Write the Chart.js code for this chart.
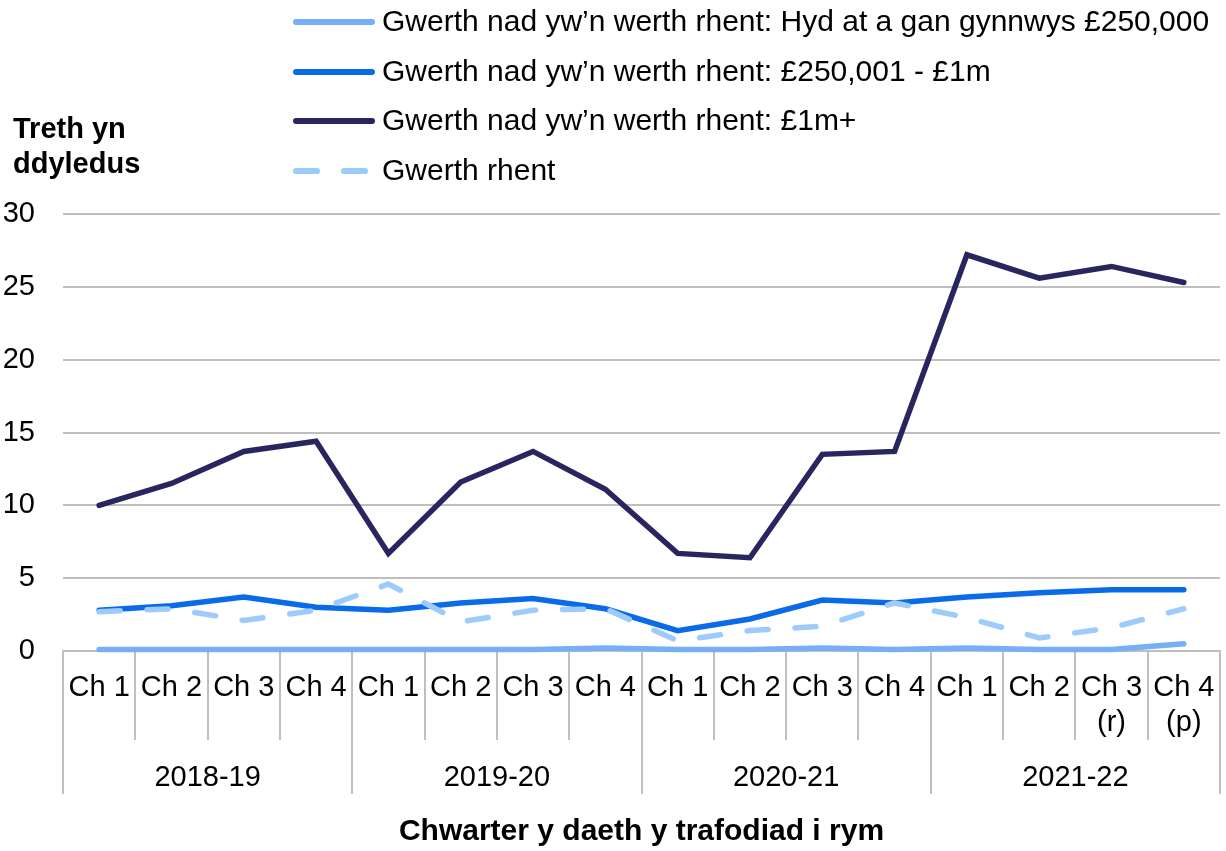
<!doctype html>
<html lang="cy">
<head>
<meta charset="UTF-8">
<title>Treth yn ddyledus</title>
<script src="https://cdn.jsdelivr.net/npm/chart.js@4/dist/chart.umd.min.js"></script>
<style>
  html, body { margin: 0; padding: 0; background: #fff; }
  #wrap { position: relative; width: 1226px; height: 851px; }
</style>
</head>
<body>
<div id="wrap"><canvas id="chart"></canvas></div>
<script>
// data
const quarters = ['Ch 1', 'Ch 2', 'Ch 3', 'Ch 4',
                  'Ch 1', 'Ch 2', 'Ch 3', 'Ch 4',
                  'Ch 1', 'Ch 2', 'Ch 3', 'Ch 4',
                  'Ch 1', 'Ch 2', ['Ch 3', '(r)'], ['Ch 4', '(p)']];
const years = ['2018-19', '2019-20', '2020-21', '2021-22'];

const upTo250k     = [0.1, 0.1, 0.1, 0.1,  0.1, 0.1, 0.1, 0.2,  0.1, 0.1, 0.2, 0.1,  0.2, 0.1, 0.1, 0.5];
const from250kTo1m = [2.8, 3.1, 3.7, 3.0,  2.8, 3.3, 3.6, 2.9,  1.4, 2.2, 3.5, 3.3,  3.7, 4.0, 4.2, 4.2];
const over1m       = [10.0, 11.5, 13.7, 14.4,  6.7, 11.6, 13.7, 11.1,  6.7, 6.4, 13.5, 13.7,  27.2, 25.6, 26.4, 25.3];
const rentValue    = [2.7, 2.9, 2.1, 2.8,  4.6, 2.0, 2.8, 2.9,  0.7, 1.4, 1.7, 3.3,  2.3, 0.9, 1.6, 2.9];

const seriesNames = [
  'Gwerth nad yw\u2019n werth rhent: Hyd at a gan gynnwys \u00a3250,000',
  'Gwerth nad yw\u2019n werth rhent: \u00a3250,001 - \u00a31m',
  'Gwerth nad yw\u2019n werth rhent: \u00a31m+',
  'Gwerth rhent'
];
const yTitle = ['Treth yn', 'ddyledus'];
const xTitle = 'Chwarter y daeth y trafodiad i rym';

const FONT = "'Liberation Sans', Arial, sans-serif";
const GRID = '#bfbfbf';
Chart.defaults.font.family = FONT;
Chart.defaults.color = '#000';

function line(label, data, color, dash, order) {
  return {
    label: label,
    data: data,
    borderColor: color,
    backgroundColor: color,
    borderWidth: 5.5,
    borderDash: dash || [],
    borderCapStyle: 'round',
    pointRadius: 0,
    pointHoverRadius: 0,
    tension: 0,
    clip: false,
    order: order
  };
}

// legend + y title drawn on the canvas
const extras = {
  id: 'extras',
  afterDraw(chart) {
    const ctx = chart.ctx;
    ctx.save();
    const rows = [22, 72, 121, 171];
    chart.data.datasets.forEach((ds, i) => {
      const y = rows[i];
      ctx.strokeStyle = ds.borderColor;
      ctx.lineWidth = 6;
      ctx.lineCap = 'round';
      ctx.setLineDash(ds.borderDash.length ? [21, 27] : []);
      ctx.beginPath();
      ctx.moveTo(296, y);
      ctx.lineTo(372, y);
      ctx.stroke();
      ctx.setLineDash([]);
      ctx.fillStyle = '#000';
      ctx.font = '30px ' + FONT;
      ctx.textBaseline = 'middle';
      ctx.textAlign = 'left';
      ctx.fillText(ds.label, 382, y + 1);
    });
    ctx.font = 'bold 29px ' + FONT;
    ctx.textBaseline = 'alphabetic';
    ctx.fillText(yTitle[0], 13, 138);
    ctx.fillText(yTitle[1], 13, 173);
    ctx.restore();
  }
};

new Chart(document.getElementById('chart'), {
  type: 'line',
  data: {
    labels: quarters,
    datasets: [
      line(seriesNames[0], upTo250k, '#78aef5', null, 1),
      line(seriesNames[1], from250kTo1m, '#0a6be9', null, 1),
      line(seriesNames[2], over1m, '#29265f', null, 1),
      line(seriesNames[3], rentValue, '#9ccbfc', [21, 27], 0)
    ]
  },
  options: {
    responsive: true,
    maintainAspectRatio: false,
    animation: false,
    events: [],
    layout: { padding: { top: 214, right: 6, bottom: 0, left: 0 } },
    plugins: {
      legend: { display: false },
      tooltip: { enabled: false }
    },
    scales: {
      y: {
        min: 0,
        max: 30,
        ticks: { stepSize: 5, padding: 28, font: { size: 29 }, color: '#000' },
        grid: { color: GRID, lineWidth: 2, drawTicks: false },
        border: { display: false },
        afterFit: s => { s.width = 63; }
      },
      x: {
        type: 'category',
        position: 'bottom',
        offset: true,
        weight: 0,
        grid: { offset: true, drawOnChartArea: false, tickLength: 89, color: GRID, lineWidth: 2 },
        border: { display: true, color: GRID, width: 2 },
        ticks: { autoSkip: false, maxRotation: 0, minRotation: 0, padding: -69, font: { size: 29 }, color: '#000' },
        afterFit: s => { s.height = 89; }
      },
      x2: {
        type: 'category',
        labels: years,
        position: 'bottom',
        offset: true,
        weight: 1,
        grid: { offset: true, drawOnChartArea: false, tickLength: 54, color: GRID, lineWidth: 2 },
        border: { display: false },
        ticks: { autoSkip: false, maxRotation: 0, minRotation: 0, padding: -33, font: { size: 29 }, color: '#000' },
        title: {
          display: true,
          text: xTitle,
          color: '#000',
          font: { size: 30, weight: 'bold' },
          padding: { top: 0, bottom: 1 }
        },
        afterFit: s => { s.height = 111; }
      }
    }
  },
  plugins: [extras]
});
</script>
</body>
</html>
